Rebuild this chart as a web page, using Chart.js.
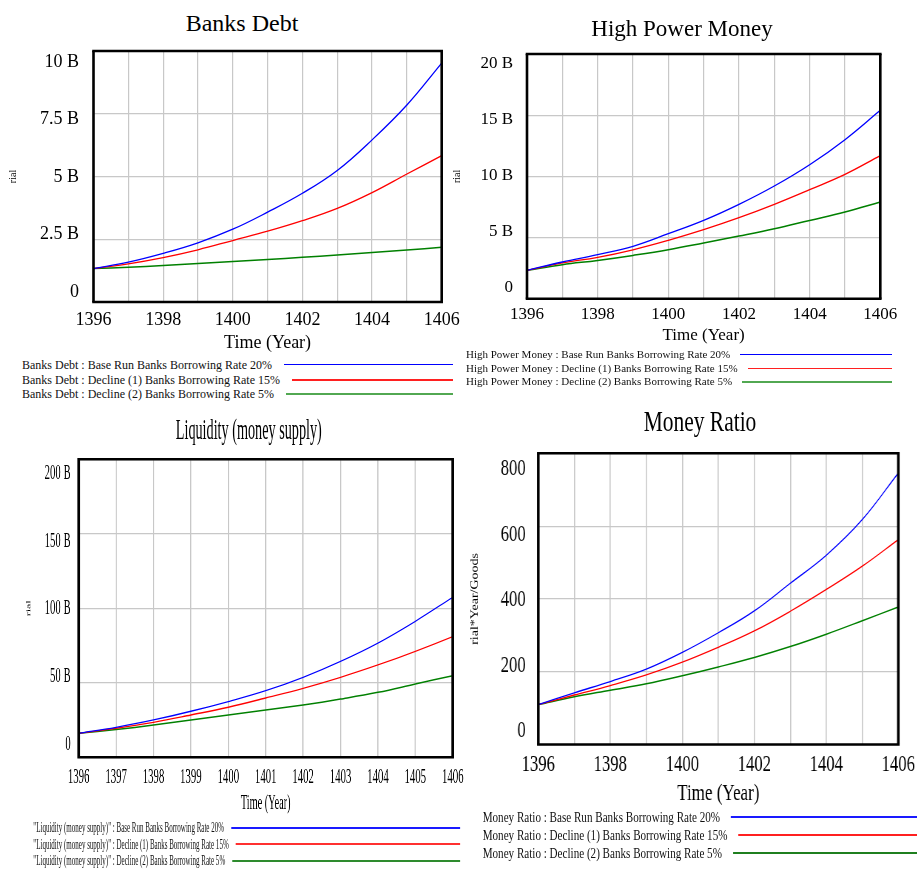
<!DOCTYPE html>
<html><head><meta charset="utf-8">
<script src="https://cdn.jsdelivr.net/npm/chart.js@4.4.1/dist/chart.umd.min.js"></script>
<style>
html,body{margin:0;padding:0;background:#fff;}
body{width:917px;height:870px;position:relative;overflow:hidden;font-family:"Liberation Serif","Times New Roman",serif;color:#000;}
.panel{position:absolute;top:0;height:870px;transform-origin:0 0;}
.panel canvas{position:absolute;}
.ttl{position:absolute;white-space:nowrap;text-align:center;line-height:1;}
.leg{position:absolute;display:flex;align-items:center;white-space:nowrap;color:#111;line-height:1.2;}
.leg .ln{flex:1;}
</style></head><body>
<script>
// ---------- DATA ----------
const years = [1396,1397,1398,1399,1400,1401,1402,1403,1404,1405,1406];
const scenarioNames = ['Base Run Banks Borrowing Rate 20%','Decline (1) Banks Borrowing Rate 15%','Decline (2) Banks Borrowing Rate 5%'];

// Banks Debt (billion rial)
const debtBase  = [1.33,1.59,1.94,2.36,2.90,3.58,4.33,5.24,6.46,7.85,9.52];
const debtDecl1 = [1.33,1.52,1.77,2.08,2.45,2.82,3.24,3.73,4.36,5.10,5.83];
const debtDecl2 = [1.33,1.38,1.45,1.53,1.61,1.69,1.78,1.87,1.97,2.07,2.18];
const debtYTicks  = [0,2.5,5,7.5,10];
const debtYLabels = ['0','2.5 B','5 B','7.5 B','10 B'];

// High Power Money (billion rial)
const hpmBase  = [2.32,3.00,3.60,4.28,5.31,6.40,7.71,9.21,10.95,13.0,15.4];
const hpmDecl1 = [2.32,2.92,3.38,4.00,4.77,5.64,6.62,7.71,8.91,10.16,11.69];
const hpmDecl2 = [2.32,2.78,3.13,3.54,4.00,4.55,5.12,5.72,6.40,7.08,7.90];
const hpmYTicks  = [0,5,10,15,20];
const hpmYLabels = ['0','5 B','10 B','15 B','20 B'];

// Liquidity (money supply) (billion rial)
const liqBase  = [16.1,20.1,25.1,30.9,37.4,44.7,53.7,64.4,76.7,91.3,107.4];
const liqDecl1 = [16.1,19.5,23.5,28.4,33.6,39.8,46.3,53.7,62.0,71.1,81.0];
const liqDecl2 = [16.1,18.6,21.7,25.1,28.4,31.8,35.1,39.1,43.6,49.2,54.8];
const liqYTicks  = [0,50,100,150,200];
const liqYLabels = ['0','50 B','100 B','150 B','200 B'];

// Money Ratio (rial*Year/Goods)
const mrBase  = [109.6,142,173,207,253,307,367,443,520,618,746];
const mrDecl1 = [109.6,136,162,191,226,267,312,366,426,490,563];
const mrDecl2 = [109.6,131,149,167,189,213,239,269,303,340,378];
const mrYTicks  = [0,200,400,600,800];
const mrYLabels = ['0','200','400','600','800'];

const xLabelsEven = [1396,1398,1400,1402,1404,1406];
const xLabelsAll  = years;

// ---------- STYLE / LAYOUT ----------
const FONT = '"Liberation Serif","Times New Roman",serif';
const lineColors = ['#0000ff','#ff0000','#008000'];

const panels = [
  { title:'Banks Debt', prefix:'Banks Debt', yTitle:'rial', vals:[debtBase,debtDecl1,debtDecl2], yTicks:debtYTicks, yLabels:debtYLabels, xLabels:xLabelsEven,
    left:0, scale:1, plot:{l:93.5,t:51,r:441.7,b:302}, canvasLeft:0, inset:[0.0435,0.0478],
    yTitleCx:13, yTitleFont:10, yTickFont:18, yTickPad:14.5, xTickFont:18, xTickPad:7, xTitleFont:18, xTitleCy:343,
    titleFont:24, titleCx:242, titleCy:23,
    legFont:12, legRows:[365,380,394], legLeft:22, legRight:453, legGap:12, legWidths:[1,1.5,2], legColors:['#0000ff','#ff2020','#52a852'] },
  { title:'High Power Money', prefix:'High Power Money', yTitle:'rial', vals:[hpmBase,hpmDecl1,hpmDecl2], yTicks:hpmYTicks, yLabels:hpmYLabels, xLabels:xLabelsEven,
    left:0, scale:1, plot:{l:527,t:54,r:880.3,b:298.7}, canvasLeft:445, inset:[0.0476,0.041],
    yTitleCx:457, yTitleFont:10, yTickFont:17, yTickPad:14, xTickFont:17, xTickPad:5.3, xTitleFont:17, xTitleCy:335,
    titleFont:23, titleCx:682, titleCy:28,
    legFont:11, legRows:[355,368.3,382], legLeft:466, legRight:892, legGap:10, legWidths:[1,1.5,2], legColors:['#0000ff','#ff2020','#52a852'] },
  { title:'Liquidity (money supply)', prefix:'"Liquidity (money supply)"', yTitle:'rial', vals:[liqBase,liqDecl1,liqDecl2], yTicks:liqYTicks, yLabels:liqYLabels, xLabels:xLabelsAll,
    left:0, scale:0.49, plot:{l:78.7,t:459.3,r:452.7,b:757.3}, canvasLeft:0, inset:[0.05,0.052],
    yTitleCx:29, yTitleFont:12, yTickFont:22, yTickPad:8, xTickFont:22, xTickPad:6.8, xTitleFont:21, xTitleCy:803,
    titleFont:29, titleCx:248.8, titleCy:429,
    legFont:14.3, legRows:[827.7,844.3,861], legLeft:33.3, legRight:460, legGap:7, legWidths:[2,2,2], legColors:['#1a1aff','#ff3030','#2e8b2e'] },
  { title:'Money Ratio', prefix:'Money Ratio', yTitle:'rial*Year/Goods', vals:[mrBase,mrDecl1,mrDecl2], yTicks:mrYTicks, yLabels:mrYLabels, xLabels:xLabelsEven,
    left:460, scale:0.74, plot:{l:538.3,t:453.3,r:898.3,b:744.5}, canvasLeft:460, inset:[0.05,0.061],
    yTitleCx:475, yTitleFont:14, yTickFont:22.5, yTickPad:12.6, xTickFont:22.5, xTickPad:7.5, xTitleFont:23, xTitleCy:793.3,
    titleFont:29, titleCx:700, titleCy:421.7,
    legFont:15, legRows:[817.3,835,852.7], legLeft:482.7, legRight:917, legGap:11, legWidths:[2,2,2], legColors:['#1a1aff','#ff2020','#1f7f1f'] }
];

const framePlugin = {
  id:'frame',
  afterDraw(chart, args, opts){
    const {ctx, chartArea:{left,top,right,bottom}} = chart;
    ctx.save();
    ctx.strokeStyle = '#000';
    ctx.lineWidth = opts.h;
    ctx.beginPath();
    ctx.moveTo(left - opts.v/2, top); ctx.lineTo(right + opts.v/2, top);
    ctx.moveTo(left - opts.v/2, bottom); ctx.lineTo(right + opts.v/2, bottom);
    ctx.stroke();
    ctx.lineWidth = opts.v;
    ctx.beginPath();
    ctx.moveTo(left, top); ctx.lineTo(left, bottom);
    ctx.moveTo(right, top); ctx.lineTo(right, bottom);
    ctx.stroke();
    ctx.restore();
  }
};

function build(p){
  const s = p.scale, L = p.left;
  const lx = x => (x - L) / s;
  const panel = document.createElement('div');
  panel.className = 'panel';
  panel.style.left = L + 'px';
  panel.style.width = ((917 - L) / s) + 'px';
  panel.style.transform = 'scaleX(' + s + ')';
  document.body.appendChild(panel);

  // chart title
  const t = document.createElement('div');
  t.className = 'ttl';
  t.textContent = p.title;
  t.style.fontSize = p.titleFont + 'px';
  t.style.width = '800px';
  t.style.left = (lx(p.titleCx) - 400) + 'px';
  t.style.top = (p.titleCy - p.titleFont * 0.5) + 'px';
  panel.appendChild(t);

  // canvas geometry
  const cl = lx(p.canvasLeft);
  const cw = Math.ceil(lx(p.plot.r) + 40 - cl);
  const padRight = cw - (lx(p.plot.r) - cl);
  const ctop = Math.round(p.plot.t - 40);
  const padTop = p.plot.t - ctop;
  const Hraw = p.xTitleCy + p.xTitleFont * 0.6 - p.plot.b;
  const ch = Math.ceil(p.plot.b + Hraw - ctop);
  const H = ch + ctop - p.plot.b;
  const ylW = lx(p.plot.l) - cl;
  const yTitlePad = lx(p.yTitleCx) - cl - p.yTitleFont * 0.6;

  const cv = document.createElement('canvas');
  cv.width = cw; cv.height = ch;
  cv.style.left = cl + 'px'; cv.style.top = ctop + 'px';
  cv.style.width = cw + 'px'; cv.style.height = ch + 'px';
  panel.appendChild(cv);

  const yMin = p.yTicks[0], yMax = p.yTicks[p.yTicks.length - 1], rng = yMax - yMin;

  new Chart(cv, {
    type: 'line',
    data: {
      datasets: p.vals.map((v, i) => ({
        label: scenarioNames[i],
        data: years.map((x, k) => ({x: x, y: v[k]})),
        borderColor: lineColors[i],
        borderWidth: i === 2 ? 1.5 : 1.3,
        pointRadius: 0,
        tension: 0.4,
        fill: false,
        xAxisID: 'x', yAxisID: 'y'
      }))
    },
    options: {
      responsive: false, animation: false, devicePixelRatio: 1,
      layout: {padding: {left: 0, top: padTop, right: padRight, bottom: 0}},
      plugins: {legend: {display: false}, tooltip: {enabled: false}, title: {display: false}, frame: {v: 2.6 / s, h: 2.6}},
      scales: {
        x: {
          type: 'linear', min: years[0], max: years[years.length - 1],
          afterBuildTicks: sc => { sc.ticks = years.map(v => ({value: v})); },
          afterFit: sc => { sc.height = H; },
          grid: {color: '#c8c8c8', lineWidth: 1.2 / s, drawTicks: false},
          border: {display: false},
          ticks: {autoSkip: false, maxRotation: 0, minRotation: 0, padding: p.xTickPad, color: '#000',
            font: {family: FONT, size: p.xTickFont},
            callback: v => p.xLabels.includes(v) ? String(v) : ''},
          title: {display: true, text: 'Time (Year)', color: '#000', font: {family: FONT, size: p.xTitleFont}, padding: {top: 0, bottom: 0}}
        },
        y: {
          type: 'linear', position: 'left', weight: 0, min: yMin, max: yMax,
          afterBuildTicks: sc => { sc.ticks = p.yTicks.map(v => ({value: v})); },
          afterFit: sc => { sc.width = 0; },
          grid: {color: '#c8c8c8', lineWidth: 1.2, drawTicks: false},
          border: {display: false},
          ticks: {display: false}
        },
        yl: {
          type: 'linear', position: 'left', weight: 1,
          min: yMin - p.inset[0] * rng, max: yMax + p.inset[1] * rng,
          afterBuildTicks: sc => { sc.ticks = p.yTicks.map(v => ({value: v})); },
          afterFit: sc => { sc.width = ylW; },
          grid: {display: false, drawTicks: false},
          border: {display: false},
          ticks: {padding: p.yTickPad / s, color: '#000', font: {family: FONT, size: p.yTickFont},
            callback: v => p.yLabels[p.yTicks.indexOf(v)]},
          title: {display: true, text: p.yTitle, color: '#000', font: {family: FONT, size: p.yTitleFont}, padding: {top: yTitlePad, bottom: 0}}
        }
      }
    },
    plugins: [framePlugin]
  });

  // legend
  p.vals.forEach((v, i) => {
    const row = document.createElement('div');
    row.className = 'leg';
    row.style.fontSize = p.legFont + 'px';
    row.style.left = lx(p.legLeft) + 'px';
    row.style.width = (lx(p.legRight) - lx(p.legLeft)) + 'px';
    row.style.top = (p.legRows[i] - p.legFont * 0.6) + 'px';
    row.style.height = (p.legFont * 1.2) + 'px';
    const sp = document.createElement('span');
    sp.textContent = p.prefix + ' : ' + scenarioNames[i];
    const ln = document.createElement('div');
    ln.className = 'ln';
    ln.style.height = p.legWidths[i] + 'px';
    ln.style.background = p.legColors[i];
    ln.style.marginLeft = (p.legGap / s) + 'px';
    row.appendChild(sp); row.appendChild(ln);
    panel.appendChild(row);
  });
}

panels.forEach(build);
</script>
</body></html>
